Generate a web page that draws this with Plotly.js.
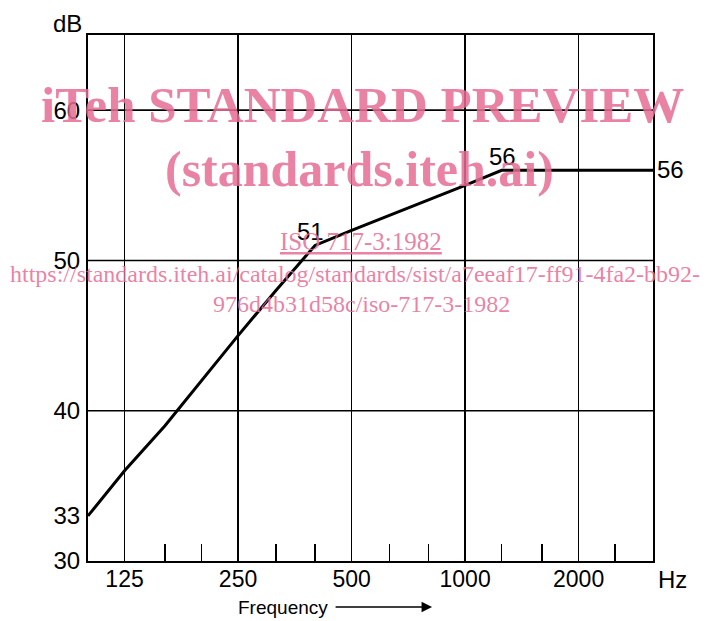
<!DOCTYPE html>
<html>
<head>
<meta charset="utf-8">
<script src="https://cdn.plot.ly/plotly-3.0.1.min.js"></script>
<style>html,body{margin:0;padding:0;background:#fff;}#chart{width:710px;height:621px;}</style>
</head>
<body>
<div id="chart"></div>
<script>
// Reference curve data (third-octave bands)
const frequencies = [100,125,160,200,250,315,400,500,630,800,1000,1250,1600,2000,2500,3150];
const levels = [33,36,39,42,45,48,51,52,53,54,55,56,56,56,56,56];
const xTickVals = [125,250,500,1000,2000];
const xTickText = ['125','250','500','1000','2000'];
const minorTickVals = [160,200,315,400,630,800,1250,1600,2500];
const yTickVals = [30,33,40,50,60];
const yTickText = ['30','33','40','50','60'];
const yGridVals = [40,50,60];
const pointLabels = [
  {f:400, v:51, text:'51', xshift:-5, yshift:14, anchor:'center'},
  {f:1250, v:56, text:'56', xshift:1, yshift:14, anchor:'center'},
  {f:3150, v:56, text:'56', xshift:2, yshift:1, anchor:'left'}
];
const watermark = [
  {text:'<b>iTeh STANDARD PREVIEW</b>', x:0.485, y:0.866, size:51},
  {text:'<b>(standards.iteh.ai)</b>', x:0.481, y:0.745, size:50},
  {text:'<u>ISO 717-3:1982</u>', x:0.483, y:0.608, size:25},
  {text:'https://standards.iteh.ai/catalog/standards/sist/a7eeaf17-ff91-4fa2-bb92-', x:0.472, y:0.546, size:24},
  {text:'976d4b31d58c/iso-717-3-1982', x:0.484, y:0.488, size:24}
];

const FONT = 'Liberation Sans, Arial, sans-serif';
const PINK = 'rgba(230,108,148,0.85)';

const trace = {
  x: frequencies, y: levels, type:'scatter', mode:'lines',
  line:{color:'#000', width:3}, hoverinfo:'skip'
};

const shapes = yGridVals.map(v => ({
  type:'line', xref:'paper', x0:0, x1:1, yref:'y', y0:v, y1:v,
  line:{color:'#000', width:1.6}, layer:'below'
}));

const annotations = [];
pointLabels.forEach(p => annotations.push({
  x: Math.log10(p.f), y: p.v, xref:'x', yref:'y', text:p.text, showarrow:false,
  xanchor:p.anchor, yanchor:'middle', xshift:p.xshift, yshift:p.yshift,
  font:{family:FONT, size:24, color:'#000'}
}));
annotations.push({xref:'paper', yref:'paper', x:-0.037, y:1.022, text:'dB', showarrow:false,
  xanchor:'center', yanchor:'middle', font:{family:FONT, size:24, color:'#000'}});
annotations.push({xref:'paper', yref:'paper', x:1.034, y:-0.036, text:'Hz', showarrow:false,
  xanchor:'center', yanchor:'middle', font:{family:FONT, size:24, color:'#000'}});
annotations.push({xref:'paper', yref:'paper', x:0.345, y:-0.0875, text:'Frequency', showarrow:false,
  xanchor:'center', yanchor:'middle', font:{family:FONT, size:19, color:'#000'}});
annotations.push({xref:'paper', yref:'paper', x:0.609, y:-0.0875, text:'', showarrow:true,
  ax:-98, ay:0, axref:'pixel', ayref:'pixel', arrowhead:2, arrowsize:1.4, arrowwidth:1.5, arrowcolor:'#000'});
watermark.forEach(w => annotations.push({
  xref:'paper', yref:'paper', x:w.x, y:w.y, text:w.text, showarrow:false,
  xanchor:'center', yanchor:'middle',
  font:{family:'Liberation Serif, Times New Roman, serif', size:w.size, color:PINK}
}));

const layout = {
  width:710, height:621,
  margin:{l:88, r:57, t:35, b:60, pad:0},
  paper_bgcolor:'#fff', plot_bgcolor:'#fff',
  showlegend:false,
  xaxis:{
    type:'log', range:[Math.log10(100), Math.log10(3150)],
    tickmode:'array', tickvals:xTickVals, ticktext:xTickText,
    ticks:'', showgrid:true, gridcolor:'#000', gridwidth:1.6,
    showline:true, mirror:true, linecolor:'#000', linewidth:2,
    zeroline:false, ticklabelstandoff:-4,
    tickfont:{family:FONT, size:23, color:'#000'},
    minor:{tickmode:'array', tickvals:minorTickVals, ticks:'inside', ticklen:17,
      tickwidth:1.5, tickcolor:'#000', showgrid:false}
  },
  yaxis:{
    range:[30,65], tickmode:'array', tickvals:yTickVals, ticktext:yTickText,
    ticks:'', showgrid:false, zeroline:false,
    showline:true, mirror:true, linecolor:'#000', linewidth:2,
    ticklabelstandoff:1,
    tickfont:{family:FONT, size:24, color:'#000'}
  },
  shapes: shapes,
  annotations: annotations
};

Plotly.newPlot('chart', [trace], layout, {staticPlot:true, displayModeBar:false});
</script>
</body>
</html>
